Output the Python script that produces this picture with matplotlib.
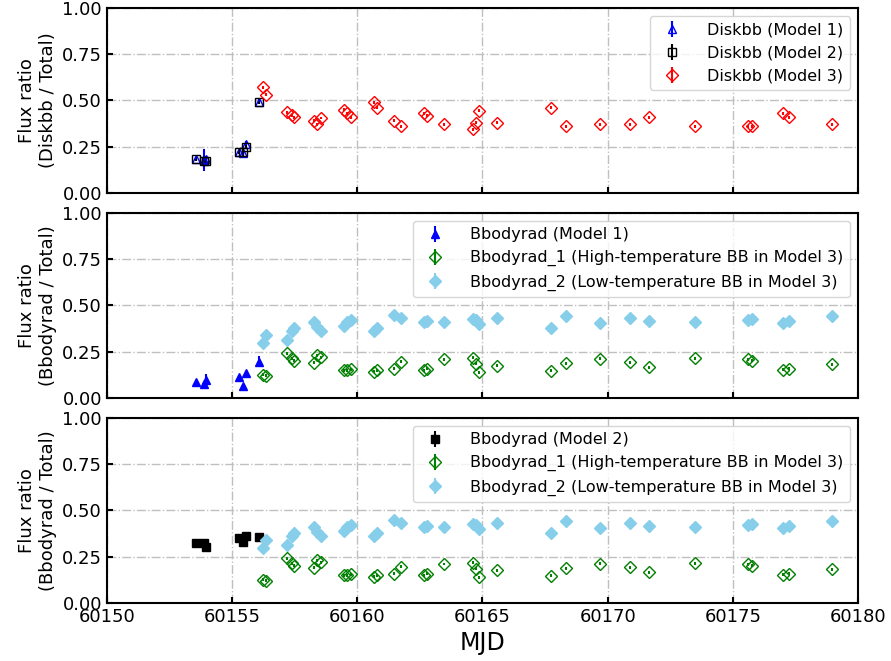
import numpy as np
import matplotlib.pyplot as plt

# MJD for Model 1 / Model 2 fits
mjd_12 = [60153.55, 60153.87, 60153.97, 60155.27, 60155.45, 60155.55, 60156.07]
# MJD for Model 3 fits
mjd_3 = [60156.23, 60156.36, 60157.20, 60157.39, 60157.48, 60158.28, 60158.39,
         60158.56, 60159.48, 60159.60, 60159.73, 60160.65, 60160.80, 60161.45,
         60161.75, 60162.65, 60162.79, 60163.45, 60164.61, 60164.76, 60164.88,
         60165.57, 60167.73, 60168.32, 60169.69, 60170.89, 60171.66, 60173.48,
         60175.61, 60175.76, 60177.00, 60177.25, 60178.97]

# Diskbb flux ratio
disk_m1 = [0.182, 0.178, 0.185, 0.223, 0.218, 0.262, 0.494]
disk_m1_err = [0.012, 0.06, 0.015, 0.01, 0.01, 0.02, 0.015]
disk_m2 = [0.182, 0.175, 0.172, 0.222, 0.220, 0.250, 0.490]
disk_m2_err = [0.01, 0.01, 0.01, 0.01, 0.01, 0.01, 0.01]
disk_m3 = [0.57, 0.53, 0.435, 0.42, 0.41, 0.39, 0.37, 0.405, 0.45, 0.43, 0.41,
           0.49, 0.46, 0.39, 0.36, 0.43, 0.416, 0.37, 0.344, 0.38, 0.445, 0.38,
           0.46, 0.36, 0.37, 0.37, 0.41, 0.36, 0.36, 0.36, 0.43, 0.41, 0.37]

# Bbodyrad flux ratio
bb_m1 = [0.088, 0.074, 0.097, 0.115, 0.066, 0.133, 0.196]
bb_m1_err = [0.01, 0.01, 0.03, 0.01, 0.01, 0.01, 0.03]
bb_m2 = [0.326, 0.323, 0.304, 0.350, 0.330, 0.362, 0.358]
bb_m2_err = [0.01, 0.01, 0.02, 0.01, 0.01, 0.01, 0.01]
bb1_m3 = [0.124, 0.12, 0.24, 0.215, 0.20, 0.19, 0.23, 0.22, 0.15, 0.15, 0.155,
          0.14, 0.15, 0.157, 0.196, 0.15, 0.157, 0.21, 0.218, 0.184, 0.139,
          0.175, 0.146, 0.187, 0.211, 0.193, 0.166, 0.214, 0.209, 0.20, 0.151,
          0.157, 0.182]
bb2_m3 = [0.296, 0.34, 0.313, 0.362, 0.377, 0.41, 0.385, 0.362, 0.39, 0.41, 0.42,
          0.36, 0.38, 0.45, 0.43, 0.41, 0.416, 0.41, 0.427, 0.42, 0.40, 0.43,
          0.38, 0.443, 0.407, 0.43, 0.416, 0.41, 0.42, 0.425, 0.407, 0.416, 0.44]
err_m3 = [0.008] * len(mjd_3)

fig, axes = plt.subplots(3, 1, figsize=(8.91, 6.61), dpi=100, sharex=True)
fig.subplots_adjust(left=0.12, right=0.963, top=0.988, bottom=0.088, hspace=0.108)

ms = 6
axes[0].errorbar(mjd_12, disk_m1, yerr=disk_m1_err, fmt='^', color='blue',
                 mfc='none', ms=ms, label='Diskbb (Model 1)')
axes[0].errorbar(mjd_12, disk_m2, yerr=disk_m2_err, fmt='s', color='black',
                 mfc='none', ms=ms, label='Diskbb (Model 2)')
axes[0].errorbar(mjd_3, disk_m3, yerr=err_m3, fmt='D', color='red',
                 mfc='none', ms=ms, label='Diskbb (Model 3)')
axes[0].set_ylabel('Flux ratio\n(Diskbb / Total)', fontsize=13)

axes[1].errorbar(mjd_12, bb_m1, yerr=bb_m1_err, fmt='^', color='blue',
                 ms=ms, label='Bbodyrad (Model 1)')
axes[1].errorbar(mjd_3, bb1_m3, yerr=err_m3, fmt='D', color='green',
                 mfc='none', ms=ms, label='Bbodyrad_1 (High-temperature BB in Model 3)')
axes[1].errorbar(mjd_3, bb2_m3, yerr=err_m3, fmt='D', color='skyblue',
                 ms=ms, label='Bbodyrad_2 (Low-temperature BB in Model 3)')
axes[1].set_ylabel('Flux ratio\n(Bbodyrad / Total)', fontsize=13)

axes[2].errorbar(mjd_12, bb_m2, yerr=bb_m2_err, fmt='s', color='black',
                 ms=ms, label='Bbodyrad (Model 2)')
axes[2].errorbar(mjd_3, bb1_m3, yerr=err_m3, fmt='D', color='green',
                 mfc='none', ms=ms, label='Bbodyrad_1 (High-temperature BB in Model 3)')
axes[2].errorbar(mjd_3, bb2_m3, yerr=err_m3, fmt='D', color='skyblue',
                 ms=ms, label='Bbodyrad_2 (Low-temperature BB in Model 3)')
axes[2].set_ylabel('Flux ratio\n(Bbodyrad / Total)', fontsize=13)
axes[2].set_xlabel('MJD', fontsize=17)

for ax in axes:
    ax.set_xlim(60150, 60180)
    ax.set_ylim(0, 1)
    ax.set_yticks([0, 0.25, 0.5, 0.75, 1.0])
    ax.grid(True, linestyle='-.', color='silver', linewidth=1)
    ax.tick_params(direction='in', labelsize=13, width=1.5, length=4)
    for s in ax.spines.values():
        s.set_linewidth(1.5)
    ax.legend(loc='upper right', fontsize=11.5, handletextpad=1.2)

fig.savefig('out.png')
